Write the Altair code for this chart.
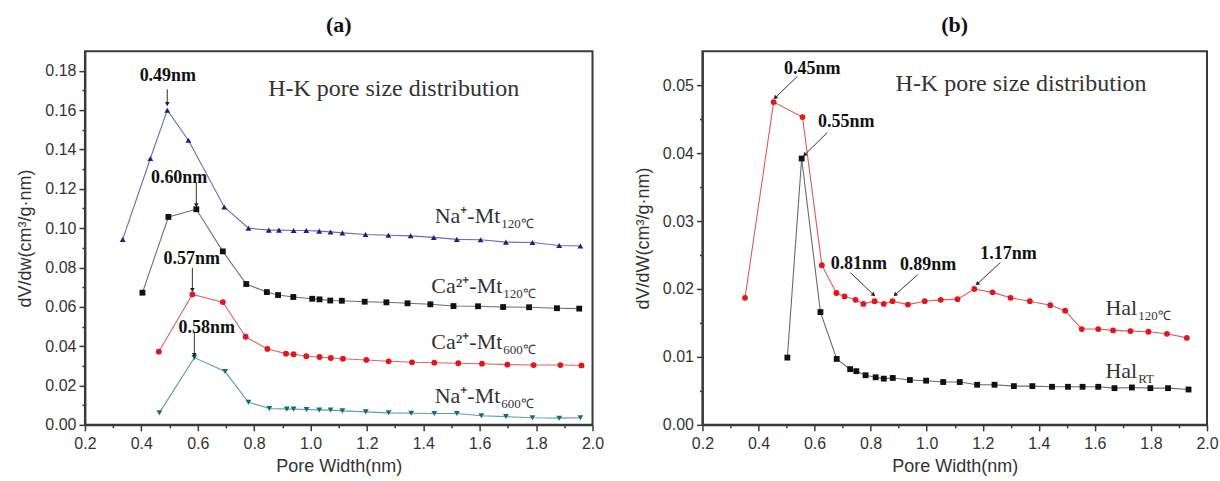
import math
import altair as alt
import pandas as pd

# ---------------- data ----------------
na120_x = [0.334, 0.432, 0.492, 0.567, 0.694, 0.780, 0.852, 0.888, 0.940, 0.985, 1.031, 1.071,
           1.113, 1.195, 1.276, 1.355, 1.437, 1.519, 1.603, 1.693, 1.787, 1.882, 1.957]
na120_y = [0.0943, 0.1354, 0.1600, 0.1447, 0.1108, 0.1000, 0.0990, 0.0990, 0.0988, 0.0988, 0.0985,
           0.0981, 0.0976, 0.0968, 0.0964, 0.0961, 0.0953, 0.0943, 0.0941, 0.0929, 0.0927, 0.0912, 0.0909]

ca120_x = [0.404, 0.496, 0.595, 0.689, 0.772, 0.845, 0.885, 0.939, 1.006, 1.032, 1.070, 1.111,
           1.192, 1.269, 1.344, 1.425, 1.507, 1.594, 1.683, 1.775, 1.874, 1.953]
ca120_y = [0.0672, 0.1057, 0.1096, 0.0882, 0.0716, 0.0675, 0.0660, 0.0650, 0.0641, 0.0638, 0.0632,
           0.0631, 0.0626, 0.0623, 0.0618, 0.0613, 0.0604, 0.0603, 0.0599, 0.0598, 0.0593, 0.0591]

ca600_x = [0.462, 0.581, 0.689, 0.770, 0.847, 0.913, 0.940, 0.985, 1.032, 1.072, 1.115, 1.198,
           1.277, 1.360, 1.439, 1.524, 1.608, 1.698, 1.791, 1.886, 1.961]
ca600_y = [0.0372, 0.0663, 0.0624, 0.0448, 0.0386, 0.0362, 0.0359, 0.0349, 0.0345, 0.0340, 0.0336,
           0.0330, 0.0323, 0.0318, 0.0316, 0.0313, 0.0311, 0.0306, 0.0304, 0.0304, 0.0302]

na600_x = [0.464, 0.588, 0.697, 0.780, 0.854, 0.916, 0.940, 0.986, 1.031, 1.071, 1.113, 1.196,
           1.277, 1.357, 1.439, 1.519, 1.606, 1.693, 1.787, 1.882, 1.957]
na600_y = [0.0061, 0.0342, 0.0271, 0.0115, 0.0083, 0.0080, 0.0080, 0.0078, 0.0076, 0.0075, 0.0071,
           0.0066, 0.0061, 0.0059, 0.0058, 0.0058, 0.0046, 0.0042, 0.0036, 0.0034, 0.0036]

hal120_x = [0.352, 0.454, 0.557, 0.626, 0.678, 0.707, 0.746, 0.774, 0.814, 0.847, 0.878, 0.933,
            0.993, 1.050, 1.110, 1.170, 1.235, 1.299, 1.368, 1.441, 1.494, 1.553, 1.612, 1.665,
            1.727, 1.791, 1.857, 1.928]
hal120_y = [0.0187, 0.0475, 0.0453, 0.0235, 0.0194, 0.0189, 0.0184, 0.0178, 0.0182, 0.0178, 0.0182,
            0.0177, 0.0182, 0.0184, 0.0185, 0.0200, 0.0195, 0.0187, 0.0182, 0.0176, 0.0168, 0.0141,
            0.0141, 0.0139, 0.0138, 0.0137, 0.0134, 0.0128]

halrt_x = [0.503, 0.554, 0.621, 0.679, 0.727, 0.749, 0.782, 0.818, 0.847, 0.879, 0.940, 0.998,
           1.059, 1.118, 1.180, 1.242, 1.311, 1.377, 1.447, 1.504, 1.556, 1.612, 1.670, 1.732,
           1.798, 1.861, 1.934]
halrt_y = [0.0099, 0.0392, 0.0166, 0.0097, 0.0082, 0.0079, 0.0073, 0.0070, 0.0068, 0.0069, 0.0066,
           0.0065, 0.0063, 0.0063, 0.0059, 0.0059, 0.0057, 0.0057, 0.0056, 0.0056, 0.0056, 0.0056,
           0.0054, 0.0055, 0.0054, 0.0054, 0.0052]

# tick values
x_ticks = [0.2, 0.3, 0.4, 0.5, 0.6, 0.7, 0.8, 0.9, 1.0, 1.1, 1.2, 1.3, 1.4, 1.5, 1.6, 1.7, 1.8, 1.9, 2.0]
ya_ticks = [0.0, 0.01, 0.02, 0.03, 0.04, 0.05, 0.06, 0.07, 0.08, 0.09, 0.10, 0.11, 0.12, 0.13,
            0.14, 0.15, 0.16, 0.17, 0.18]
yb_ticks = [0.0, 0.005, 0.01, 0.015, 0.02, 0.025, 0.03, 0.035, 0.04, 0.045, 0.05]

# annotations (a)
a_note_text = ["0.49nm", "0.60nm", "0.57nm", "0.58nm"]
a_note_x = [0.494, 0.534, 0.579, 0.632]
a_note_y = [0.1775, 0.1255, 0.0844, 0.0494]
a_arrow_x0 = [0.492, 0.595, 0.581, 0.588]
a_arrow_y0 = [0.1706, 0.1230, 0.0799, 0.0472]
a_arrow_x1 = [0.492, 0.595, 0.581, 0.588]
a_arrow_y1 = [0.1634, 0.1120, 0.0689, 0.0359]
a_label_main = ["Na⁺-Mt", "Ca²⁺-Mt", "Ca²⁺-Mt", "Na⁺-Mt"]
a_label_sub = ["120℃", "120℃", "600℃", "600℃"]
a_label_x = [1.673, 1.680, 1.680, 1.673]
a_label_y = [0.1025, 0.0672, 0.0384, 0.0113]

# annotations (b)
b_note_text = ["0.45nm", "0.55nm", "0.81nm", "0.89nm", "1.17nm"]
b_note_x = [0.592, 0.713, 0.758, 1.005, 1.292]
b_note_y = [0.0523, 0.0445, 0.0236, 0.0235, 0.0251]
b_arrow_x0 = [0.539, 0.645, 0.728, 0.968, 1.263]
b_arrow_y0 = [0.0513, 0.0430, 0.0224, 0.0221, 0.0239]
b_arrow_x1 = [0.461, 0.566, 0.809, 0.889, 1.182]
b_arrow_y1 = [0.0482, 0.0398, 0.0192, 0.0192, 0.0208]
b_label_main = ["Hal", "Hal"]
b_label_sub = ["120℃", "RT"]
b_label_x = [1.751, 1.751]
b_label_y = [0.0162, 0.0069]

hk_text = "H-K pore size distribution"

# ---------------- styling ----------------
SERIF = "Liberation Serif"
SANS = "Liberation Sans"
AX = "#3a3a3a"
W_A, W_B, H = 508, 505, 374
XDOM = [0.2, 2.0]


def build_panel(series, ydom, yticks, ymult, ytitle, title, width,
                notes, arrows, labels, hk_xy):
    xmaj = "abs(datum.value*5 - round(datum.value*5)) < 0.01"
    ymaj = f"abs(datum.value*{ymult} - round(datum.value*{ymult})) < 0.01"
    x_enc = alt.X("x:Q", scale=alt.Scale(domain=XDOM, nice=False, zero=False),
                  axis=alt.Axis(values=x_ticks, title="Pore Width(nm)", grid=False,
                                labelExpr=f"{xmaj} ? format(datum.value, '.1f') : ''",
                                tickSize={"condition": {"test": xmaj, "value": 6}, "value": 3},
                                labelFlush=False, labelOverlap=False, labelPadding=5,
                                titlePadding=6))
    y_enc = alt.Y("y:Q", scale=alt.Scale(domain=ydom, nice=False, zero=False),
                  axis=alt.Axis(values=yticks, title=ytitle, grid=False,
                                labelExpr=f"{ymaj} ? format(datum.value, '.2f') : ''",
                                tickSize={"condition": {"test": ymaj, "value": 6}, "value": 3},
                                labelFlush=False, labelOverlap=False, labelPadding=3,
                                titlePadding=10))

    rows = []
    for name, xs, ys in series:
        for xv, yv in zip(xs, ys):
            rows.append({"x": xv, "y": yv, "s": name})
    df = pd.DataFrame(rows)
    names = [s[0] for s in series]
    line_cols = [STY[n][0] for n in names]
    pt_cols = [STY[n][1] for n in names]
    shapes = [STY[n][2] for n in names]

    lines = alt.Chart(df).mark_line(strokeWidth=1.1).encode(
        x=x_enc, y=y_enc,
        stroke=alt.Stroke("s:N", scale=alt.Scale(domain=names, range=line_cols), legend=None))
    pts = alt.Chart(df).mark_point(filled=True, opacity=1, size=34, strokeWidth=0).encode(
        x=x_enc, y=y_enc,
        fill=alt.Fill("s:N", scale=alt.Scale(domain=names, range=pt_cols), legend=None),
        shape=alt.Shape("s:N", scale=alt.Scale(domain=names, range=shapes), legend=None))

    ntext, nx, ny = notes
    df_n = pd.DataFrame({"x": nx, "y": ny, "t": ntext})
    note_l = alt.Chart(df_n).mark_text(font=SERIF, fontSize=18, fontWeight="bold",
                                       color="#111", baseline="middle").encode(
        x=x_enc, y=y_enc, text="t:N")

    ax0, ay0, ax1, ay1 = arrows
    sx = width / (XDOM[1] - XDOM[0])
    sy = H / (ydom[1] - ydom[0])
    angles = []
    for a, b, c, d in zip(ax0, ay0, ax1, ay1):
        dxp = (c - a) * sx
        dyp = -(d - b) * sy
        angles.append(math.degrees(math.atan2(dxp, -dyp)) % 360)
    df_a = pd.DataFrame({"x": ax0, "y": ay0, "x2": ax1, "y2": ay1, "a": angles})
    rule_l = alt.Chart(df_a).mark_rule(color="#333", strokeWidth=1).encode(
        x=x_enc, y=y_enc, x2="x2:Q", y2="y2:Q")
    df_h = pd.DataFrame({"x": ax1, "y": ay1, "a": angles})
    head_l = alt.Chart(df_h).mark_point(shape="triangle", filled=True, size=22,
                                        color="#222", opacity=1, strokeWidth=0).encode(
        x=x_enc, y=y_enc, angle=alt.Angle("a:Q", scale=None))

    lmain, lsub, lx, ly = labels
    df_l = pd.DataFrame({"x": lx, "y": ly, "m": lmain, "s": lsub})
    lab_main = alt.Chart(df_l).mark_text(font=SERIF, fontSize=22, color="#333",
                                         align="right", baseline="alphabetic").encode(
        x=x_enc, y=y_enc, text="m:N")
    lab_sub = alt.Chart(df_l).mark_text(font=SERIF, fontSize=13, color="#333",
                                        align="left", baseline="alphabetic", dx=1, dy=5).encode(
        x=x_enc, y=y_enc, text="s:N")

    df_hk = pd.DataFrame({"x": [hk_xy[0]], "y": [hk_xy[1]], "t": [hk_text]})
    hk_l = alt.Chart(df_hk).mark_text(font=SERIF, fontSize=24, color="#333",
                                      align="left", baseline="middle").encode(
        x=x_enc, y=y_enc, text="t:N")

    return alt.layer(lines, pts, rule_l, head_l, note_l, lab_main, lab_sub, hk_l).properties(
        width=width, height=H,
        title=alt.TitleParams(title, font=SERIF, fontSize=22, fontWeight="bold",
                              color="#111", offset=14))


STY = {
    "Na120": ("#6a6ea8", "#1a1f8a", "triangle-up"),
    "Ca120": ("#6e6e6e", "#111111", "square"),
    "Ca600": ("#d9666b", "#e3141c", "circle"),
    "Na600": ("#5f9ea6", "#0f6e7c", "triangle-down"),
    "Hal120": ("#dc5a5f", "#e3141c", "circle"),
    "HalRT": ("#6a6a6a", "#111111", "square"),
}

left = build_panel(
    [("Na120", na120_x, na120_y), ("Ca120", ca120_x, ca120_y),
     ("Ca600", ca600_x, ca600_y), ("Na600", na600_x, na600_y)],
    [0, 0.19], ya_ticks, 50, "dV/dw(cm³/g·nm)", "(a)", W_A,
    (a_note_text, a_note_x, a_note_y),
    (a_arrow_x0, a_arrow_y0, a_arrow_x1, a_arrow_y1),
    (a_label_main, a_label_sub, a_label_x, a_label_y),
    (0.850, 0.1706))

right = build_panel(
    [("Hal120", hal120_x, hal120_y), ("HalRT", halrt_x, halrt_y)],
    [0, 0.055], yb_ticks, 100, "dV/dW(cm³/g·nm)", "(b)", W_B,
    (b_note_text, b_note_x, b_note_y),
    (b_arrow_x0, b_arrow_y0, b_arrow_x1, b_arrow_y1),
    (b_label_main, b_label_sub, b_label_x, b_label_y),
    (0.889, 0.0502))

chart = alt.hconcat(left, right, spacing=27).resolve_scale(
    x="independent", y="independent", stroke="independent", fill="independent",
    shape="independent"
).properties(
    padding={"left": 15, "top": 13, "right": 0, "bottom": 0},
    background="white"
).configure_axis(
    labelFont=SANS, labelFontSize=16, labelColor="#333",
    titleFont=SANS, titleFontSize=18, titleFontWeight="normal", titleColor="#333",
    domainColor=AX, domainWidth=2, tickColor=AX, tickWidth=1.5
).configure_view(stroke=AX, strokeWidth=2)

chart.save("out.html", embed_options={"renderer": "svg", "actions": False})
